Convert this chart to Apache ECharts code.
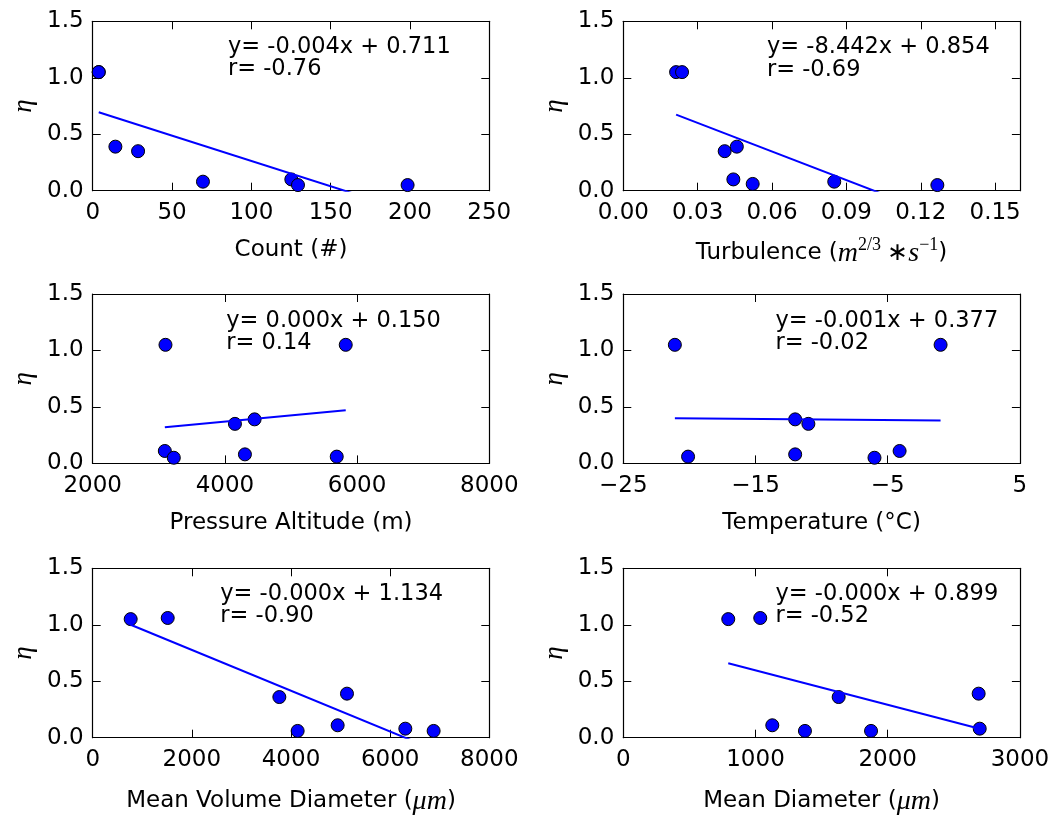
<!DOCTYPE html>
<html>
<head>
<meta charset="utf-8">
<script src="https://cdn.jsdelivr.net/npm/echarts@6/dist/echarts.min.js"></script>
<style>
html,body{margin:0;padding:0;background:#fff;}
#chart{width:1057px;height:815px;}
</style>
</head>
<body>
<div id="chart"></div>
<script>
// ---- data ----
const countX = [3.8, 3.8, 14.3, 28.6, 69.5, 125.2, 129.4, 198.5];
const countEta = [1.05, 1.05, 0.39, 0.35, 0.08, 0.10, 0.05, 0.05];
const countFit = [[3.8, 0.694], [198.5, -0.178]];

const turbX = [0.0213, 0.0237, 0.0409, 0.0458, 0.0444, 0.0522, 0.0851, 0.1267];
const turbEta = [1.05, 1.05, 0.35, 0.39, 0.10, 0.06, 0.08, 0.05];
const turbFit = [[0.0213, 0.674], [0.1267, -0.216]];

const altX = [3101, 5828, 4152, 4449, 3091, 3227, 4303, 5692];
const altEta = [1.05, 1.05, 0.35, 0.39, 0.11, 0.05, 0.08, 0.06];
const altFit = [[3091, 0.32], [5828, 0.47]];

const tempX = [-21.1, -1.0, -12.0, -11.0, -20.1, -12.0, -6.0, -4.1];
const tempEta = [1.05, 1.05, 0.39, 0.35, 0.06, 0.08, 0.05, 0.11];
const tempFit = [[-21.1, 0.40], [-1.0, 0.38]];

const mvdX = [766, 1513, 3765, 4134, 4941, 5129, 6306, 6877];
const mvdEta = [1.05, 1.06, 0.36, 0.06, 0.11, 0.39, 0.08, 0.06];
const mvdFit = [[766, 1.0], [6877, -0.104]];

const mdX = [794, 1036, 1127, 1374, 1629, 1874, 2688, 2696];
const mdEta = [1.05, 1.06, 0.11, 0.06, 0.36, 0.06, 0.39, 0.08];
const mdFit = [[794, 0.659], [2696, 0.08]];

const eqTexts = ['y= -0.004x + 0.711', 'y= -8.442x + 0.854', 'y= 0.000x + 0.150',
                 'y= -0.001x + 0.377', 'y= -0.000x + 1.134', 'y= -0.000x + 0.899'];
const rTexts = ['r= -0.76', 'r= -0.69', 'r= 0.14', 'r= -0.02', 'r= -0.90', 'r= -0.52'];

const xNames = ['Count (#)', 'Turbulence ({i|m}{s|2/3}{op| \u2217}{i|s}{s|\u22121})',
                'Pressure Altitude (m)', 'Temperature (\u00b0C)',
                'Mean Volume Diameter ({i|\u03bcm})', 'Mean Diameter ({i|\u03bcm})'];
const xMin = [0, 0, 2000, -25, 0, 0];
const xMax = [250, 0.16, 8000, 5, 8000, 3000];
const xStep = [50, 0.03, 2000, 10, 2000, 1000];
const xDigits = [0, 2, 0, 0, 0, 0];
const yMin = 0, yMax = 1.5, yStep = 0.5;

const xs = [countX, turbX, altX, tempX, mvdX, mdX];
const ys = [countEta, turbEta, altEta, tempEta, mvdEta, mdEta];
const fits = [countFit, turbFit, altFit, tempFit, mvdFit, mdFit];

// ---- layout ----
const colLeft = [92.7, 623.3];
const rowTop = [21.3, 294, 568.3];
const gw = 396.6, gh = 169.4;
const textPos = [[228, 47, 69.5], [767, 47.5, 70], [226.3, 321, 343],
                 [775.5, 321.3, 343.5], [220.3, 594, 616], [775.5, 594.3, 616.5]];

const FONT = 'DejaVu Sans';
const MATH = 'Liberation Serif';
const FS = 23;
const AFS = 22.5;
const black = '#000';

function fmtX(i) {
  return function (v) {
    let s = Number(v).toFixed(xDigits[i]);
    if (v < 0) s = '\u2212' + Math.abs(v).toFixed(xDigits[i]);
    return s;
  };
}

const grids = [], xAxes = [], yAxes = [], series = [], graphics = [];
for (let i = 0; i < 6; i++) {
  const c = i % 2, r = Math.floor(i / 2);
  grids.push({left: colLeft[c], top: rowTop[r], width: gw, height: gh,
              containLabel: false, outerBoundsMode: 'none', show: false});
  const tick = {show: true, inside: true, length: 8, lineStyle: {color: black, width: 1}};
  const line = {show: true, onZero: false, lineStyle: {color: black, width: 1.2}};
  xAxes.push({
    gridIndex: i, type: 'value', position: 'bottom', min: xMin[i], max: xMax[i], interval: xStep[i],
    axisLine: line, axisTick: tick, splitLine: {show: false},
    axisLabel: {show: true, color: black, fontSize: FS, fontFamily: FONT, margin: 11,
                formatter: fmtX(i), showMaxLabel: i === 1 ? false : true, showMinLabel: true},
    name: xNames[i], nameLocation: 'middle', nameGap: i === 1 ? 46 : 47, nameMoveOverlap: false,
    nameTextStyle: {color: black, fontSize: FS, fontFamily: FONT, lineHeight: i === 1 ? 33 : 25,
      rich: {
        i: {fontFamily: MATH, fontStyle: 'italic', fontSize: 28, color: black, lineHeight: 33},
        s: {fontFamily: MATH, fontSize: 18, color: black, verticalAlign: 'top', lineHeight: 17},
        op: {fontFamily: MATH, fontSize: 25, color: black, lineHeight: 33}
      }}
  });
  xAxes.push({
    gridIndex: i, type: 'value', position: 'top', min: xMin[i], max: xMax[i], interval: xStep[i],
    axisLine: line, axisTick: tick, splitLine: {show: false}, axisLabel: {show: false}
  });
  yAxes.push({
    gridIndex: i, type: 'value', position: 'left', min: yMin, max: yMax, interval: yStep,
    axisLine: line, axisTick: tick, splitLine: {show: false},
    axisLabel: {show: true, color: black, fontSize: FS, fontFamily: FONT, margin: 9,
                formatter: v => Number(v).toFixed(1), padding: [0, 0, 5, 0]},
    name: '\u03b7', nameLocation: 'middle', nameGap: 55, nameRotate: 90, nameMoveOverlap: false,
    nameTextStyle: {color: black, fontSize: 27, fontFamily: MATH, fontStyle: 'italic'}
  });
  yAxes.push({
    gridIndex: i, type: 'value', position: 'right', min: yMin, max: yMax, interval: yStep,
    axisLine: line, axisTick: tick, splitLine: {show: false}, axisLabel: {show: false}
  });
  series.push({
    type: 'scatter', xAxisIndex: 2 * i, yAxisIndex: 2 * i,
    data: xs[i].map((x, k) => [x, ys[i][k]]),
    symbol: 'circle', symbolSize: 13,
    itemStyle: {color: '#0000ff', borderColor: black, borderWidth: 1, opacity: 1},
    emphasis: {disabled: true}, z: 2
  });
  series.push({
    type: 'line', xAxisIndex: 2 * i, yAxisIndex: 2 * i,
    data: fits[i], showSymbol: false, symbol: 'none', clip: true,
    lineStyle: {color: '#0000ff', width: 2}, emphasis: {disabled: true}, z: 3
  });
  const p = textPos[i];
  graphics.push({type: 'text', x: p[0], y: p[1], z: 10,
    style: {text: eqTexts[i], fill: black, font: AFS + 'px "DejaVu Sans"', align: 'left', verticalAlign: 'middle'}});
  graphics.push({type: 'text', x: p[0], y: p[2], z: 10,
    style: {text: rTexts[i], fill: black, font: AFS + 'px "DejaVu Sans"', align: 'left', verticalAlign: 'middle'}});
}

const chart = echarts.init(document.getElementById('chart'), null, {renderer: 'canvas'});
chart.setOption({
  animation: false,
  backgroundColor: '#fff',
  textStyle: {fontFamily: FONT},
  grid: grids, xAxis: xAxes, yAxis: yAxes, series: series, graphic: graphics
});
</script>
</body>
</html>
